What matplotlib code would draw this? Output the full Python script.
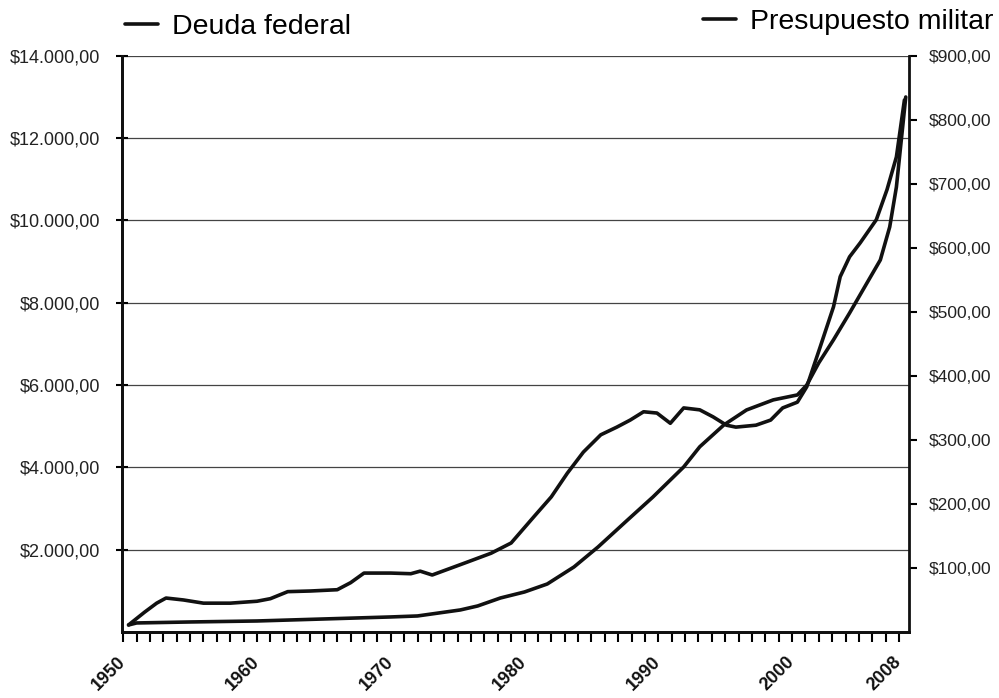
import matplotlib.pyplot as plt
from matplotlib.ticker import FuncFormatter, MultipleLocator

plt.rcParams['font.family'] = ['Liberation Sans', 'DejaVu Sans']

# Deuda federal (eje izquierdo)
debt_years = [1950.4, 1951, 1955, 1960, 1965, 1970, 1972, 1975.2, 1976.5, 1978.2,
              1980, 1981.7, 1983.7, 1985.5, 1987.7, 1989.6, 1991.9, 1993.1, 1994.9,
              1996.6, 1998.6, 2000.4, 2001.1, 2002, 2003.1, 2004.3, 2005.6, 2006.6,
              2007.3, 2007.8, 2008.3, 2008.5]
debt = [170, 219, 243, 267, 316, 365, 389, 535, 632, 826,
        972, 1166, 1580, 2066, 2720, 3280, 4010, 4500, 5030,
        5395, 5640, 5760, 6000, 6540, 7100, 7750, 8480, 9040,
        9840, 10810, 12370, 13000]

# Presupuesto militar (eje derecho)
mil_years = [1950.4, 1951.6, 1952.5, 1953.2, 1954.5, 1956, 1958, 1960, 1961, 1962.3,
             1964, 1966, 1967, 1968, 1970, 1971.5, 1972.2, 1973.1, 1975.7, 1977.5,
             1979, 1980.7, 1982, 1983.2, 1984.4, 1985.7, 1986.9, 1987.9, 1988.9,
             1989.9, 1990.9, 1991.9, 1993.1, 1994.1, 1995.1, 1995.8, 1997.3, 1998.4,
             1999.3, 2000.4, 2001.1, 2002.1, 2003.1, 2003.6, 2004.3, 2005.1, 2006.3,
             2007.1, 2007.8, 2008.4]
mil = [11, 31, 45, 53, 50, 45, 45, 48, 52, 63,
       64, 66, 77, 92, 92, 91, 95, 89, 109, 123,
       139, 180, 211, 248, 281, 308, 320, 331, 344,
       342, 326, 350, 347, 336, 323, 320, 323, 331,
       350, 359, 383, 445, 508, 555, 586, 608, 644,
       691, 742, 831]

year_ticks = [1950, 1960, 1970, 1980, 1990, 2000, 2008]
left_ticks = [2000, 4000, 6000, 8000, 10000, 12000, 14000]
right_ticks = [100, 200, 300, 400, 500, 600, 700, 800, 900]


def money(v, pos=None):
    s = f"{v:,.2f}"
    s = s.replace(',', 'X').replace('.', ',').replace('X', '.')
    return '$' + s


fig = plt.figure(figsize=(9.99, 6.98), dpi=100)
ax = fig.add_axes([0.122, 0.0946, 0.788, 0.8254])
ax2 = ax.twinx()

ink = '#111111'
l1, = ax.plot(debt_years, debt, color=ink, lw=2.6, solid_capstyle='round')
l2, = ax2.plot(mil_years, mil, color=ink, lw=2.6, solid_capstyle='round')

ax.set_xlim(1949.9, 2008.75)
ax.set_ylim(0, 14000)
ax2.set_ylim(0, 900)

ax.set_yticks(left_ticks)
ax.yaxis.set_major_formatter(FuncFormatter(money))
ax2.set_yticks(right_ticks)
ax2.yaxis.set_major_formatter(FuncFormatter(money))

ax.set_xticks(year_ticks)
ax.set_xticklabels([str(y) for y in year_ticks])
ax.xaxis.set_minor_locator(MultipleLocator(1))

ax.grid(axis='y', color='#444444', lw=0.9)
ax.set_axisbelow(True)

for a in (ax, ax2):
    a.spines['top'].set_visible(False)
    for s in ('left', 'right', 'bottom'):
        a.spines[s].set_linewidth(2)
        a.spines[s].set_color(ink)
ax.spines['right'].set_visible(False)

ax.tick_params(axis='y', direction='inout', length=9, width=1.5, pad=11,
               labelsize=13, labelcolor='#222222')
ax2.tick_params(axis='y', direction='out', length=6, width=1.5, pad=8,
                labelsize=12.5, labelcolor='#222222')
ax.tick_params(axis='x', which='both', direction='out', length=7, width=1.5,
               pad=13, labelsize=13, labelcolor=ink)
for lab in ax.get_xticklabels():
    lab.set_rotation(45)
    lab.set_ha('right')
    lab.set_va('center')
    lab.set_rotation_mode('anchor')
    lab.set_fontweight('bold')

fig.legend([l1], ['Deuda federal'], loc='center left',
           bbox_to_anchor=(125 / 999, 1 - 27 / 698), frameon=False,
           fontsize=20.5, handlelength=1.15, handletextpad=0.5,
           borderpad=0, borderaxespad=0)
fig.legend([l2], ['Presupuesto militar'], loc='center left',
           bbox_to_anchor=(703 / 999, 1 - 22 / 698), frameon=False,
           fontsize=20.5, handlelength=1.15, handletextpad=0.5,
           borderpad=0, borderaxespad=0)

fig.savefig('out.png', dpi=100, facecolor='white')
